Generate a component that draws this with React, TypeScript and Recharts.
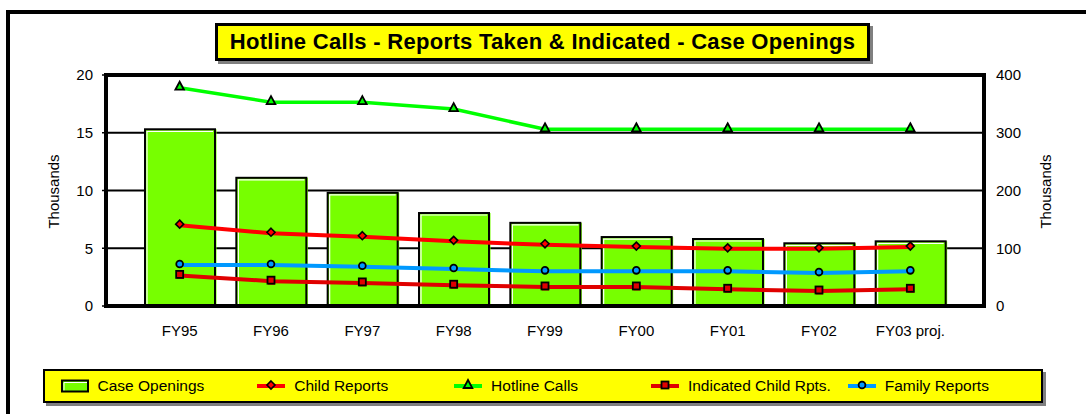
import React from 'react';
import { ComposedChart, Bar, Line, XAxis, YAxis, CartesianGrid, ReferenceLine, Label } from 'recharts';

const categories = ['FY95', 'FY96', 'FY97', 'FY98', 'FY99', 'FY00', 'FY01', 'FY02', 'FY03 proj.'];
const caseOpenings = [15.3, 11.1, 9.8, 8.05, 7.2, 5.97, 5.8, 5.43, 5.6];
const childReports = [140, 126, 120, 112, 106, 102, 99, 99, 102];
const hotlineCalls = [378, 353, 353, 341, 306, 306, 306, 306, 306];
const indicatedChildRpts = [53, 43, 40, 36, 33, 33, 29, 26, 29];
const familyReports = [71, 71, 68, 64, 60, 60, 60, 57, 60];
const leftTicks = [0, 5, 10, 15, 20];
const rightTicks = [0, 100, 200, 300, 400];
const seriesNames = ['Case Openings', 'Child Reports', 'Hotline Calls', 'Indicated Child Rpts.', 'Family Reports'];
const titleText = 'Hotline Calls - Reports Taken & Indicated - Case Openings';
const axisTitle = 'Thousands';

const FONT = '"Liberation Sans", Arial, Helvetica, sans-serif';
const BAR_GREEN = '#77FF00';
const HOT_GREEN = '#00FF00';
const RED = '#FF0000';
const IND_RED = '#E00000';
const BLUE = '#0099FF';

const data = categories.map((c, i) => ({
  name: c,
  caseOpenings: caseOpenings[i],
  childReports: childReports[i],
  hotlineCalls: hotlineCalls[i],
  indicated: indicatedChildRpts[i],
  family: familyReports[i],
}));

const BarShape = (props: any) => {
  const { x, y, width, height } = props;
  if (!height || height <= 0) return <g />;
  return (
    <g>
      <rect x={x} y={y} width={width + 1.5} height={height} fill={BAR_GREEN} />
      <polyline
        points={`${x + 2},${y + height} ${x + 2},${y + 2} ${x + width - 2},${y + 2}`}
        stroke="#fff"
        strokeWidth={1.2}
        fill="none"
      />
      <rect x={x} y={y} width={width} height={height} fill="none" stroke="#000" strokeWidth={2} />
    </g>
  );
};

const triPath = (cx: number, cy: number) => `M${cx},${cy - 5} L${cx + 4.3},${cy + 3} L${cx - 4.3},${cy + 3} Z`;
const diaPath = (cx: number, cy: number) => `M${cx},${cy - 4} L${cx + 4},${cy} L${cx},${cy + 4} L${cx - 4},${cy} Z`;

const TriDot = (p: any) => (
  <path key={`t${p.index}`} d={triPath(p.cx, p.cy - 1)} fill={HOT_GREEN} stroke="#000" strokeWidth={1.8} strokeLinejoin="miter" />
);
const DiaDot = (p: any) => (
  <path key={`d${p.index}`} d={diaPath(p.cx, p.cy - 1)} fill={RED} stroke="#000" strokeWidth={1.6} />
);
const SqDot = (p: any) => (
  <g key={`s${p.index}`}>
    <rect x={p.cx - 3} y={p.cy - 3.5} width={7} height={7} fill={IND_RED} />
    <rect x={p.cx - 3.5} y={p.cy - 4.5} width={7} height={7} fill={IND_RED} stroke="#000" strokeWidth={1.8} />
  </g>
);
const CircDot = (p: any) => (
  <circle key={`c${p.index}`} cx={p.cx} cy={p.cy - 1} r={3.4} fill={BLUE} stroke="#000" strokeWidth={1.8} />
);

const axisTitleContent = (offsetX: number) => (props: any) => {
  const vb = props.viewBox || {};
  const x = vb.x + offsetX;
  const y = vb.y + vb.height / 2 + 1;
  return (
    <text
      x={x}
      y={y}
      transform={`rotate(-90 ${x} ${y})`}
      textAnchor="middle"
      dominantBaseline="central"
      fontSize={15}
      fontFamily={FONT}
      fill="#000"
    >
      {axisTitle}
    </text>
  );
};

const LegendSymbol = ({ idx }: { idx: number }) => {
  if (idx === 0) {
    return (
      <svg width={28} height={14} style={{ display: 'block' }}>
        <rect x={1} y={1.5} width={27} height={11} fill={BAR_GREEN} />
        <polyline points="3,12.5 3,3.5 26,3.5" stroke="#fff" strokeWidth={1} fill="none" />
        <rect x={1} y={1.5} width={26} height={11} fill="none" stroke="#000" strokeWidth={2} />
      </svg>
    );
  }
  const colors = ['', RED, HOT_GREEN, IND_RED, BLUE];
  const cx = 14;
  const cy = 8;
  let marker: React.ReactNode = null;
  if (idx === 1) marker = <path d={diaPath(cx, cy - 1)} fill={RED} stroke="#000" strokeWidth={1.6} />;
  if (idx === 2) marker = <path d={triPath(cx, cy - 1)} fill={HOT_GREEN} stroke="#000" strokeWidth={1.8} />;
  if (idx === 3) marker = <rect x={cx - 3.5} y={cy - 4.5} width={7} height={7} fill={IND_RED} stroke="#000" strokeWidth={1.8} />;
  if (idx === 4) marker = <circle cx={cx} cy={cy - 1} r={3.4} fill={BLUE} stroke="#000" strokeWidth={1.8} />;
  return (
    <svg width={28} height={16} style={{ display: 'block' }}>
      <line x1={0} y1={cy} x2={28} y2={cy} stroke={colors[idx]} strokeWidth={4} />
      {marker}
    </svg>
  );
};

export default function App() {
  return (
    <div
      style={{
        position: 'fixed',
        left: 0,
        top: 0,
        width: 1086,
        height: 414,
        overflow: 'hidden',
        background: '#fff',
        fontFamily: FONT,
      }}
    >
      <div
        style={{
          position: 'absolute',
          left: 6,
          top: 10,
          width: 2000,
          height: 1000,
          border: '4px solid #000',
        }}
      />
      <div style={{ position: 'absolute', left: 0, top: 0 }}>
        <ComposedChart
          width={1086}
          height={414}
          data={data}
          margin={{ top: 75, right: 22, bottom: 78, left: 46 }}
        >
          <CartesianGrid yAxisId="left" vertical={false} stroke="#000" strokeWidth={2} />
          <XAxis
            dataKey="name"
            padding={{ left: 28, right: 28 }}
            height={30}
            tickLine={false}
            tickSize={0}
            tickMargin={19}
            axisLine={{ stroke: '#000', strokeWidth: 4, strokeLinecap: 'square' }}
            tick={{ fontSize: 15, fill: '#000', fontFamily: FONT }}
            interval={0}
          />
          <YAxis
            yAxisId="left"
            orientation="left"
            width={60}
            domain={[0, 20]}
            ticks={leftTicks}
            allowDataOverflow
            tickSize={4}
            tickMargin={9}
            tickLine={{ stroke: '#000', strokeWidth: 1.5 }}
            axisLine={{ stroke: '#000', strokeWidth: 4, strokeLinecap: 'square' }}
            tick={{ fontSize: 15, fill: '#000', fontFamily: FONT }}
          >
            <Label content={axisTitleContent(7)} />
          </YAxis>
          <YAxis
            yAxisId="right"
            orientation="right"
            width={80}
            domain={[0, 400]}
            ticks={rightTicks}
            allowDataOverflow
            tickSize={4}
            tickMargin={8}
            tickLine={false}
            axisLine={{ stroke: '#000', strokeWidth: 4, strokeLinecap: 'square' }}
            tick={{ fontSize: 15, fill: '#000', fontFamily: FONT }}
          >
            <Label content={axisTitleContent(61)} />
          </YAxis>
          <ReferenceLine yAxisId="left" y={20} stroke="#000" strokeWidth={4} strokeLinecap="square" />
          <Bar
            yAxisId="left"
            dataKey="caseOpenings"
            name={seriesNames[0]}
            barSize={70}
            shape={BarShape}
            isAnimationActive={false}
          />
          <Line
            yAxisId="right"
            type="linear"
            dataKey="hotlineCalls"
            name={seriesNames[2]}
            stroke={HOT_GREEN}
            strokeWidth={3.5}
            dot={TriDot}
            activeDot={false}
            isAnimationActive={false}
          />
          <Line
            yAxisId="right"
            type="linear"
            dataKey="childReports"
            name={seriesNames[1]}
            stroke={RED}
            strokeWidth={4}
            dot={DiaDot}
            activeDot={false}
            isAnimationActive={false}
          />
          <Line
            yAxisId="right"
            type="linear"
            dataKey="family"
            name={seriesNames[4]}
            stroke={BLUE}
            strokeWidth={4}
            dot={CircDot}
            activeDot={false}
            isAnimationActive={false}
          />
          <Line
            yAxisId="right"
            type="linear"
            dataKey="indicated"
            name={seriesNames[3]}
            stroke={IND_RED}
            strokeWidth={4}
            dot={SqDot}
            activeDot={false}
            isAnimationActive={false}
          />
        </ComposedChart>
      </div>
      <div
        style={{
          position: 'absolute',
          left: 215,
          top: 23,
          width: 655,
          height: 38,
          boxSizing: 'border-box',
          background: '#FFFF00',
          border: '3px solid #000',
          boxShadow: '3px 3px 0 #808080',
          display: 'flex',
          alignItems: 'center',
          justifyContent: 'center',
          fontWeight: 'bold',
          fontSize: 22,
          letterSpacing: '0.3px',
          color: '#000',
          whiteSpace: 'nowrap',
        }}
      >
        {titleText}
      </div>
      <div
        style={{
          position: 'absolute',
          left: 43,
          top: 369,
          width: 1000,
          height: 34,
          boxSizing: 'border-box',
          background: '#FFFF00',
          border: '2.5px solid #000',
          boxShadow: '3px 3px 0 #808080',
        }}
      >
        {seriesNames.map((n, i) => (
          <div
            key={n}
            style={{
              position: 'absolute',
              left: 15.5 + i * 196.8,
              top: 0,
              height: '100%',
              display: 'flex',
              alignItems: 'center',
              whiteSpace: 'nowrap',
            }}
          >
            <LegendSymbol idx={i} />
            <span style={{ marginLeft: 9, fontSize: 15.5, color: '#000', lineHeight: 1 }}>{n}</span>
          </div>
        ))}
      </div>
    </div>
  );
}
